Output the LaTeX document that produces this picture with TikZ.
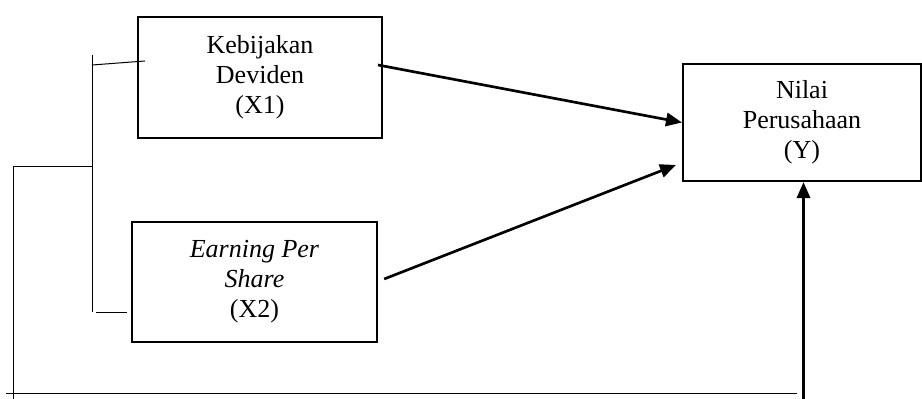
\documentclass[tikz,border=0pt]{standalone}
\usepackage{fontspec}
\setmainfont{Liberation Serif}
\usetikzlibrary{arrows.meta}

\tikzset{
	varbox/.style={draw, line width=1.5pt, align=center, inner sep=0pt,
		font=\fontsize{19.5}{22.5}\selectfont},
	panah/.style={line width=2pt, -{Triangle[length=12pt,width=10pt]}},
	garis/.style={line width=0.75pt}
}

\begin{document}
\begin{tikzpicture}[x=0.75pt, y=-0.75pt]
	\useasboundingbox (0,0) rectangle (922,399);
	% Variabel
	\node[varbox, minimum width=183pt, minimum height=91pt] (x1) at (260,77.5)
	{Kebijakan\\Deviden\\(X1)};
	\node[varbox, minimum width=184pt, minimum height=90pt] (x2) at (254.5,282)
	{\textit{Earning Per}\\\textit{Share}\\(X2)};
	\node[varbox, minimum width=178.5pt, minimum height=88pt] (y) at (802,122.5)
	{Nilai\\Perusahaan\\(Y)};

	% Kurung kiri
	\coordinate (kiri) at (13,399);
	\coordinate (bawah) at (803.5,399);
	\draw[garis] (kiri) -- (13,167) -- (92,167);
	\draw[garis] (92,55) -- (92,312);
	\draw[garis] (92,65) -- (145,61);
	\draw[garis] (96,313) -- ([xshift=-3pt]x2.west |- 0,313);
	\draw[garis] (6,393) -- (797,393);

	% Panah
	\draw[panah] ([shift={(-5,-12.5)}]x1.east) -- (y.west);
	\draw[panah] ([shift={(6,-3)}]x2.east) -- ([shift={(-6,42.5)}]y.west);
	\draw[panah] (bawah) -- (bawah |- y.south);
\end{tikzpicture}
\end{document}
